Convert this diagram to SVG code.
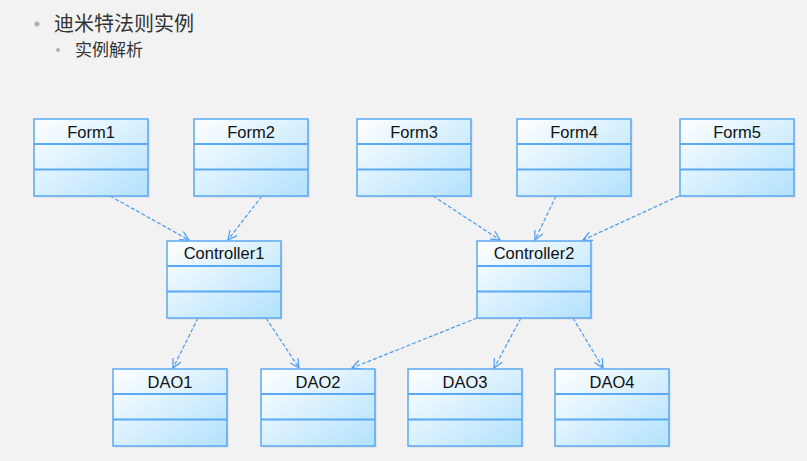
<svg xmlns="http://www.w3.org/2000/svg" width="807" height="461" viewBox="0 0 807 461">
<defs>
<linearGradient id="g" x1="0" y1="0" x2="1" y2="1">
<stop offset="0" stop-color="#ffffff"/>
<stop offset="0.5" stop-color="#d8f0fe"/>
<stop offset="1" stop-color="#b2e1fd"/>
</linearGradient>
<marker id="arr" markerWidth="12" markerHeight="12" refX="10" refY="5" orient="auto" markerUnits="userSpaceOnUse">
<path d="M1,0.5 L10,5 L1,9.5" fill="none" stroke="#4a9bef" stroke-width="1.2"/>
</marker>
<g id="cls">
<rect x="1.5" y="1.5" width="114" height="77" fill="#c8c8c8" opacity="0.6"/>
<rect x="0" y="0" width="114" height="77" fill="url(#g)" stroke="#5aa9f2" stroke-width="1.5"/>
<line x1="0" y1="25" x2="114" y2="25" stroke="#5aa9f2" stroke-width="2"/>
<line x1="0" y1="50.5" x2="114" y2="50.5" stroke="#5aa9f2" stroke-width="2"/>
</g>
</defs>
<style>
.t{font-family:"Liberation Sans",Arial,sans-serif;font-size:16.5px;fill:#111;text-anchor:middle}
.h1{font-family:"Noto Sans CJK SC",sans-serif;font-size:20px;fill:#333}
.h2{font-family:"Noto Sans CJK SC",sans-serif;font-size:17px;fill:#333}
.c{fill:none;stroke:#4a9bef;stroke-width:1.2;stroke-dasharray:4 2;marker-end:url(#arr)}
</style>
<rect width="807" height="461" fill="#f2f2f2"/>
<g id="title">
<circle cx="37" cy="24" r="2.5" fill="#a3b4bb"/>
<text class="h1" x="54" y="31">迪米特法则实例</text>
<circle cx="58" cy="50" r="2" fill="#a3b4bb"/>
<text class="h2" x="75" y="56">实例解析</text>
</g>
<g id="connectors">
<line class="c" x1="110" y1="196" x2="189" y2="240"/>
<line class="c" x1="262" y1="196" x2="228" y2="240"/>
<line class="c" x1="433" y1="196" x2="500" y2="240"/>
<line class="c" x1="556" y1="196" x2="535" y2="240"/>
<line class="c" x1="679" y1="196" x2="583" y2="240"/>
<line class="c" x1="198" y1="318" x2="173" y2="368"/>
<line class="c" x1="266" y1="318" x2="299" y2="368"/>
<line class="c" x1="477" y1="318" x2="352" y2="368"/>
<line class="c" x1="521" y1="318" x2="494" y2="368"/>
<line class="c" x1="573" y1="318" x2="603" y2="368"/>
</g>
<g id="Form1"><use href="#cls" x="34" y="119"/><text class="t" x="91" y="138">Form1</text></g>
<g id="Form2"><use href="#cls" x="194" y="119"/><text class="t" x="251" y="138">Form2</text></g>
<g id="Form3"><use href="#cls" x="357" y="119"/><text class="t" x="414" y="138">Form3</text></g>
<g id="Form4"><use href="#cls" x="517" y="119"/><text class="t" x="574" y="138">Form4</text></g>
<g id="Form5"><use href="#cls" x="680" y="119"/><text class="t" x="737" y="138">Form5</text></g>
<g id="Controller1"><use href="#cls" x="167" y="241"/><text class="t" x="224" y="259">Controller1</text></g>
<g id="Controller2"><use href="#cls" x="477" y="241"/><text class="t" x="534" y="259">Controller2</text></g>
<g id="DAO1"><use href="#cls" x="113" y="369"/><text class="t" x="170" y="388">DAO1</text></g>
<g id="DAO2"><use href="#cls" x="261" y="369"/><text class="t" x="318" y="388">DAO2</text></g>
<g id="DAO3"><use href="#cls" x="408" y="369"/><text class="t" x="465" y="388">DAO3</text></g>
<g id="DAO4"><use href="#cls" x="555" y="369"/><text class="t" x="612" y="388">DAO4</text></g>
</svg>
